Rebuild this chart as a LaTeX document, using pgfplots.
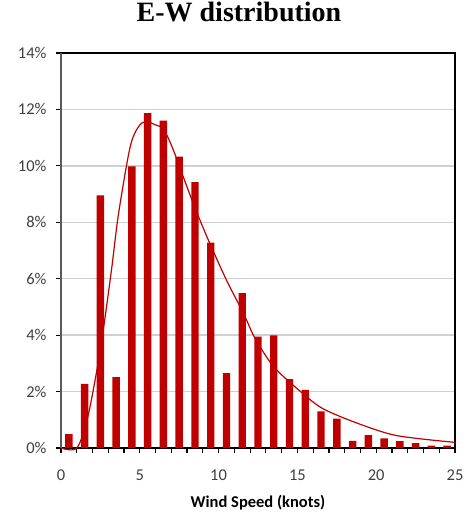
\documentclass[border=0pt]{standalone}
\usepackage{fontspec}
\setmainfont{Carlito}
\newfontfamily\titlefont{Liberation Serif}
\usepackage{pgfplots}
\pgfplotsset{compat=1.18}
\definecolor{barred}{HTML}{C00000}
\definecolor{gridgray}{HTML}{D0D0D0}
\definecolor{ticktext}{HTML}{404040}
\definecolor{leftaxis}{HTML}{595959}
\begin{document}
\begin{tikzpicture}
\begin{axis}[name=ax, at={(0,0)}, anchor=south west,
  scale only axis, width=394bp, height=395bp,
  xmin=0, xmax=25, ymin=0, ymax=14,
  xtick={0,5,...,25}, minor xtick={0,...,25},
  ytick={0,2,...,14},
  xtick pos=bottom, ytick pos=left,
  tick align=outside, major tick length=5bp, minor tick length=5bp,
  tick style={black, line width=1.2bp},
  ymajorgrids, major grid style={gridgray, line width=1.4bp},
  axis line style={black, line width=1.8bp},
  /pgf/number format/assume math mode=true,
  yticklabel={\pgfmathprintnumber{\tick}\%},
  ticklabel style={font=\fontsize{16.5bp}{19bp}\selectfont, text=ticktext},
  xticklabel style={yshift=-13bp},
  yticklabel style={xshift=-6bp},
  xlabel={\textbf{Wind Speed (knots)}},
  xlabel style={font=\fontsize{16.5bp}{19bp}\selectfont, text=black, at={(axis description cs:0.5,-0.139)}, anchor=center, inner sep=0pt},
  title={\titlefont\bfseries E-W distribution},
  title style={font=\fontsize{28bp}{32bp}\selectfont, at={(axis description cs:0.5,1)}, anchor=base, yshift=26bp, xshift=-19bp, inner sep=0pt},
  ybar, bar width=0.47, bar shift=0pt,
  clip=false
]
\addplot[fill=barred, draw=none] coordinates {
(0.5,0.49) (1.5,2.27) (2.5,8.95) (3.5,2.51) (4.5,9.98) (5.5,11.87) (6.5,11.6)
(7.5,10.33) (8.5,9.42) (9.5,7.28) (10.5,2.65) (11.5,5.49) (12.5,3.95) (13.5,3.99)
(14.5,2.44) (15.5,2.06) (16.5,1.30) (17.5,1.04) (18.5,0.25) (19.5,0.46) (20.5,0.34)
(21.5,0.24) (22.5,0.17) (23.5,0.08) (24.5,0.08)};
\addplot[smooth, tension=0.5, color=barred, line width=1.2bp, mark=none] coordinates {
(0,0) (1.0,0) (1.7,1.1) (2.5,3.5) (3.2,6.3) (3.65,8.3) (4.4,10.7) (5.0,11.45) (5.5,11.55)
(6.0,11.45) (6.5,11.3) (7.1,10.6) (8.3,8.8) (9.25,7.5) (10.5,5.95) (11.6,4.75) (12.3,3.9)
(13.5,2.88) (15.2,2.0) (16.6,1.4) (18.8,0.88) (21.3,0.44) (25,0.2)};
\draw[leftaxis, line width=2.4bp] (rel axis cs:0,0) -- (rel axis cs:0,1);
\end{axis}
\path[use as bounding box] ([xshift=-61bp,yshift=-70bp]ax.south west) rectangle ([xshift=19bp,yshift=53bp]ax.north east);
\end{tikzpicture}
\end{document}
